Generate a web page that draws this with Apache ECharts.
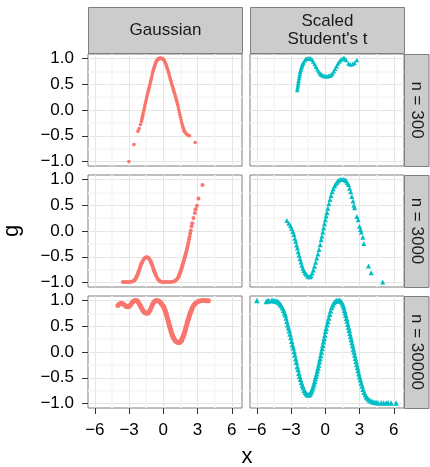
<!DOCTYPE html>
<html><head><meta charset="utf-8">
<script src="https://cdn.jsdelivr.net/npm/echarts@6/dist/echarts.min.js"></script>
<style>html,body{margin:0;padding:0;background:#fff}#c{width:430px;height:467px}</style>
</head><body><div id="c"></div>
<script>
// ---- data ----
const columns = ['Gaussian', "Scaled\nStudent's t"];
const rows = ['n = 300', 'n = 3000', 'n = 30000'];
const xTicks = [-6, -3, 0, 3, 6];
const xMinor = [-4.5, -1.5, 1.5, 4.5];
const yTicks = [-1, -0.5, 0, 0.5, 1];
const yMinor = [-0.75, -0.25, 0.25, 0.75];
const xTitle = 'x';
const yTitle = 'g';

const gauss300 = [[-3.02,-1.0],[-2.58,-0.67],[-2.22,-0.41],[-2.12,-0.36],[-2.0,-0.28],[-1.92,-0.22],[-1.88,-0.18],[-1.84,-0.14],[-1.8,-0.1],[-1.76,-0.06],[-1.72,-0.02],[-1.68,0.02],[-1.64,0.06],[-1.6,0.1],[-1.56,0.14],[-1.52,0.18],[-1.48,0.22],[-1.44,0.26],[-1.4,0.295],[-1.36,0.33],[-1.32,0.365],[-1.28,0.4],[-1.24,0.435],[-1.2,0.47],[-1.16,0.51],[-1.12,0.55],[-1.08,0.585],[-1.04,0.62],[-1.0,0.66],[-0.96,0.7],[-0.92,0.735],[-0.88,0.77],[-0.84,0.8],[-0.8,0.83],[-0.76,0.855],[-0.72,0.88],[-0.68,0.905],[-0.64,0.93],[-0.6,0.945],[-0.56,0.96],[-0.52,0.975],[-0.48,0.985],[-0.44,0.99],[-0.4,0.995],[-0.35,1.0],[-0.3,1.0],[-0.25,1.0],[-0.2,1.0],[-0.15,0.998],[-0.1,0.995],[-0.05,0.99],[0.0,0.98],[0.05,0.965],[0.1,0.95],[0.15,0.925],[0.2,0.9],[0.25,0.87],[0.3,0.84],[0.35,0.805],[0.4,0.77],[0.45,0.73],[0.5,0.69],[0.55,0.65],[0.6,0.61],[0.65,0.57],[0.7,0.53],[0.75,0.495],[0.8,0.46],[0.85,0.42],[0.9,0.38],[0.95,0.345],[1.0,0.31],[1.05,0.27],[1.1,0.23],[1.15,0.19],[1.2,0.15],[1.25,0.105],[1.3,0.06],[1.35,0.01],[1.4,-0.04],[1.45,-0.09],[1.5,-0.14],[1.55,-0.19],[1.6,-0.24],[1.65,-0.28],[1.7,-0.32],[1.75,-0.355],[1.8,-0.39],[1.85,-0.41],[1.9,-0.43],[2.0,-0.46],[2.1,-0.48],[2.2,-0.495],[2.3,-0.5],[2.79,-0.63]];

const t300 = [[-2.46,0.39],[-2.43,0.435],[-2.4,0.48],[-2.37,0.525],[-2.34,0.57],[-2.3,0.615],[-2.27,0.66],[-2.235,0.7],[-2.2,0.74],[-2.16,0.775],[-2.12,0.81],[-2.075,0.84],[-2.03,0.87],[-1.98,0.895],[-1.93,0.92],[-1.82,0.96],[-1.7,0.99],[-1.56,1.0],[-1.42,1.0],[-1.3,1.0],[-1.18,0.98],[-1.06,0.94],[-0.94,0.89],[-0.82,0.84],[-0.7,0.79],[-0.58,0.745],[-0.46,0.71],[-0.34,0.685],[-0.22,0.67],[-0.1,0.66],[0.02,0.655],[0.14,0.655],[0.26,0.66],[0.38,0.665],[0.5,0.68],[0.62,0.71],[0.74,0.75],[0.86,0.8],[0.98,0.85],[1.1,0.9],[1.22,0.94],[1.34,0.97],[1.46,0.99],[1.58,1.0],[1.7,1.0],[1.82,0.968],[2.03,0.903],[2.2,0.884],[2.4,0.89],[2.55,0.916],[2.76,0.968]];

const gauss3000 = [[-3.55,-0.99],[-3.4,-0.99],[-3.2,-0.99],[-3.0,-0.99],[-2.8,-0.985],[-2.65,-0.975],[-2.55,-0.955],[-2.5,-0.945],[-2.45,-0.93],[-2.4,-0.91],[-2.35,-0.89],[-2.3,-0.865],[-2.25,-0.84],[-2.2,-0.81],[-2.15,-0.78],[-2.1,-0.745],[-2.05,-0.71],[-2.0,-0.68],[-1.95,-0.65],[-1.9,-0.625],[-1.85,-0.6],[-1.75,-0.56],[-1.65,-0.53],[-1.55,-0.515],[-1.45,-0.51],[-1.35,-0.515],[-1.25,-0.535],[-1.15,-0.57],[-1.1,-0.595],[-1.05,-0.62],[-1.0,-0.65],[-0.95,-0.68],[-0.9,-0.71],[-0.85,-0.745],[-0.8,-0.78],[-0.75,-0.81],[-0.7,-0.835],[-0.65,-0.86],[-0.55,-0.905],[-0.45,-0.94],[-0.35,-0.965],[-0.2,-0.985],[0.0,-0.99],[0.2,-0.99],[0.4,-0.99],[0.6,-0.99],[0.8,-0.985],[0.95,-0.975],[1.1,-0.955],[1.2,-0.93],[1.3,-0.9],[1.35,-0.875],[1.4,-0.85],[1.45,-0.82],[1.5,-0.79],[1.55,-0.755],[1.6,-0.72],[1.65,-0.685],[1.7,-0.65],[1.75,-0.61],[1.8,-0.57],[1.85,-0.53],[1.9,-0.49],[1.95,-0.45],[2.0,-0.41],[2.05,-0.365],[2.1,-0.32],[2.15,-0.27],[2.2,-0.22],[2.25,-0.165],[2.3,-0.11],[2.35,-0.05],[2.4,0.01],[2.47,0.09],[2.53,0.15],[2.64,0.25],[2.76,0.35],[2.82,0.42],[2.94,0.49],[3.08,0.63],[3.43,0.89]];

const t3000 = [[-3.37,0.205],[-3.2,0.15],[-3.05,0.1],[-2.95,0.05],[-2.85,-0.01],[-2.75,-0.07],[-2.68,-0.14],[-2.6,-0.2],[-2.52,-0.27],[-2.45,-0.33],[-2.38,-0.4],[-2.3,-0.47],[-2.22,-0.54],[-2.14,-0.6],[-2.06,-0.665],[-1.97,-0.72],[-1.88,-0.765],[-1.78,-0.81],[-1.68,-0.84],[-1.56,-0.87],[-1.44,-0.885],[-1.35,-0.885],[-1.25,-0.865],[-1.15,-0.815],[-1.05,-0.755],[-0.95,-0.685],[-0.85,-0.605],[-0.75,-0.525],[-0.65,-0.445],[-0.55,-0.36],[-0.45,-0.265],[-0.37,-0.17],[-0.3,-0.1],[-0.22,-0.02],[-0.15,0.06],[-0.08,0.14],[0.0,0.22],[0.07,0.29],[0.14,0.36],[0.22,0.44],[0.31,0.53],[0.4,0.61],[0.5,0.69],[0.6,0.76],[0.7,0.82],[0.8,0.87],[0.9,0.91],[1.0,0.94],[1.1,0.97],[1.2,0.99],[1.32,1.0],[1.45,1.0],[1.6,1.0],[1.72,0.995],[1.82,0.975],[1.92,0.94],[2.02,0.9],[2.12,0.83],[2.22,0.76],[2.32,0.67],[2.42,0.58],[2.5,0.5],[2.56,0.45],[2.76,0.28],[2.88,0.22],[2.99,0.09],[3.08,0.03],[3.15,-0.02],[3.28,-0.12],[3.37,-0.24],[3.78,-0.68],[4.01,-0.81],[5.03,-0.99]];

const gauss30000 = [[-3.98,0.9],[-3.85,0.93],[-3.7,0.945],[-3.55,0.935],[-3.4,0.91],[-3.25,0.88],[-3.1,0.875],[-2.98,0.885],[-2.85,0.92],[-2.72,0.96],[-2.6,0.99],[-2.45,1.0],[-2.3,0.995],[-2.2,0.97],[-2.1,0.93],[-2.0,0.89],[-1.9,0.85],[-1.8,0.81],[-1.7,0.78],[-1.6,0.76],[-1.45,0.75],[-1.35,0.755],[-1.25,0.78],[-1.15,0.82],[-1.05,0.87],[-0.95,0.92],[-0.85,0.96],[-0.75,0.985],[-0.6,1.0],[-0.45,0.995],[-0.35,0.98],[-0.25,0.96],[-0.15,0.93],[-0.05,0.9],[0.0,0.88],[0.05,0.86],[0.1,0.835],[0.15,0.81],[0.2,0.775],[0.25,0.74],[0.3,0.7],[0.35,0.66],[0.4,0.62],[0.45,0.58],[0.5,0.54],[0.55,0.5],[0.6,0.46],[0.65,0.42],[0.7,0.385],[0.75,0.35],[0.8,0.32],[0.85,0.29],[0.9,0.27],[0.95,0.25],[1.05,0.22],[1.15,0.2],[1.25,0.19],[1.35,0.185],[1.45,0.19],[1.55,0.21],[1.6,0.23],[1.65,0.26],[1.7,0.285],[1.75,0.31],[1.8,0.34],[1.85,0.37],[1.9,0.41],[1.95,0.45],[2.0,0.49],[2.05,0.53],[2.1,0.57],[2.15,0.61],[2.2,0.645],[2.25,0.68],[2.3,0.715],[2.35,0.75],[2.4,0.78],[2.45,0.81],[2.5,0.835],[2.55,0.86],[2.65,0.9],[2.75,0.93],[2.9,0.96],[3.05,0.98],[3.2,0.99],[3.4,1.0],[3.6,1.0],[3.8,0.995],[3.95,0.995]];

const t30000 = [[-5.99,1.0],[-5.17,0.98],[-5.05,0.99],[-4.94,1.0],[-4.7,1.0],[-4.59,1.0],[-4.45,0.995],[-4.3,0.99],[-4.18,0.975],[-4.07,0.96],[-3.96,0.93],[-3.86,0.9],[-3.76,0.855],[-3.66,0.81],[-3.58,0.76],[-3.51,0.72],[-3.44,0.66],[-3.37,0.59],[-3.3,0.53],[-3.23,0.47],[-3.16,0.41],[-3.09,0.35],[-3.02,0.28],[-2.95,0.21],[-2.88,0.14],[-2.81,0.08],[-2.74,0.01],[-2.67,-0.06],[-2.6,-0.13],[-2.53,-0.2],[-2.46,-0.28],[-2.39,-0.34],[-2.32,-0.41],[-2.25,-0.47],[-2.18,-0.53],[-2.1,-0.59],[-2.02,-0.645],[-1.94,-0.69],[-1.86,-0.74],[-1.76,-0.78],[-1.66,-0.81],[-1.56,-0.83],[-1.46,-0.835],[-1.36,-0.82],[-1.27,-0.79],[-1.2,-0.75],[-1.13,-0.71],[-1.06,-0.67],[-1.0,-0.62],[-0.94,-0.57],[-0.88,-0.52],[-0.82,-0.47],[-0.76,-0.42],[-0.7,-0.365],[-0.64,-0.31],[-0.58,-0.25],[-0.52,-0.19],[-0.46,-0.13],[-0.4,-0.07],[-0.34,0.0],[-0.28,0.07],[-0.22,0.13],[-0.16,0.2],[-0.1,0.26],[-0.04,0.33],[0.02,0.4],[0.08,0.46],[0.15,0.53],[0.22,0.59],[0.3,0.66],[0.38,0.73],[0.46,0.8],[0.55,0.86],[0.65,0.91],[0.76,0.955],[0.88,0.985],[1.0,1.0],[1.12,1.0],[1.24,1.0],[1.36,0.99],[1.46,0.955],[1.54,0.91],[1.61,0.86],[1.67,0.81],[1.73,0.76],[1.79,0.71],[1.85,0.655],[1.91,0.6],[1.97,0.54],[2.03,0.48],[2.09,0.42],[2.15,0.36],[2.21,0.3],[2.27,0.24],[2.33,0.18],[2.39,0.12],[2.45,0.06],[2.51,0.0],[2.57,-0.06],[2.63,-0.12],[2.69,-0.18],[2.75,-0.24],[2.81,-0.3],[2.87,-0.36],[2.93,-0.42],[3.0,-0.48],[3.07,-0.54],[3.14,-0.6],[3.22,-0.66],[3.3,-0.72],[3.4,-0.78],[3.5,-0.83],[3.6,-0.87],[3.72,-0.9],[3.85,-0.93],[4.0,-0.95],[4.15,-0.965],[4.3,-0.975],[4.45,-0.98],[4.6,-0.985],[4.88,-0.985],[5.1,-0.99],[5.32,-0.99],[5.5,-0.985],[5.76,-0.99],[6.2,-0.99]];

// ---- layout / style ----
const panels = [gauss300, t300, gauss3000, t3000, gauss30000, t30000];
const panelSizes = [3.6, 4.6, 4, 5, 5, 5.5];
const FF = "'Liberation Sans', Arial, Helvetica, sans-serif";
const colLeft = [88, 250], panelW = 154;
const rowTop = [54, 175, 296], panelH = 112;
const X_MIN = -6.6, X_MAX = 6.89, Y_MIN = -1.085, Y_MAX = 1.085;
const colColors = ['#F8766D', '#00BFC4'];
const colSymbols = ['circle', 'triangle'];
const fmtX = v => (v < 0 ? '\u2212' : '') + Math.abs(v);
const fmtY = v => (v < 0 ? '\u2212' : '') + Math.abs(v).toFixed(1);

const grids = [], xAxes = [], yAxes = [], series = [], graphic = [];
for (let i = 0; i < 6; i++) {
  const r = Math.floor(i / 2), c = i % 2;
  grids.push({ left: colLeft[c], top: rowTop[r], width: panelW, height: panelH, show: true,
    backgroundColor: '#fff', borderColor: '#7f7f7f', borderWidth: 1, containLabel: false, outerBoundsMode: 'none' });
}
// minor grid-line axes first (drawn underneath)
for (let i = 0; i < 6; i++) {
  xAxes.push({ type: 'value', gridIndex: i, min: X_MIN, max: X_MAX, position: 'top',
    axisLine: { show: false, onZero: false }, axisTick: { show: false, customValues: xMinor },
    axisLabel: { show: false }, splitLine: { show: true, customValues: xMinor, lineStyle: { color: '#F6F6F6', width: 1.5 } } });
  yAxes.push({ type: 'value', gridIndex: i, min: Y_MIN, max: Y_MAX, position: 'right',
    axisLine: { show: false, onZero: false }, axisTick: { show: false, customValues: yMinor },
    axisLabel: { show: false }, splitLine: { show: true, customValues: yMinor, lineStyle: { color: '#F6F6F6', width: 1.5 } } });
}
for (let i = 0; i < 6; i++) {
  const r = Math.floor(i / 2), c = i % 2;
  const bottom = r === 2, left = c === 0;
  xAxes.push({ type: 'value', gridIndex: i, min: X_MIN, max: X_MAX, position: 'bottom',
    axisLine: { show: false, onZero: false },
    axisTick: { show: bottom, customValues: xTicks, length: 6, lineStyle: { color: '#333', width: 1 } },
    axisLabel: { show: bottom, customValues: xTicks, formatter: fmtX, fontSize: 17, color: '#000', fontFamily: FF, margin: 14 },
    splitLine: { show: true, customValues: xTicks, lineStyle: { color: '#E5E5E5', width: 1 } } });
  yAxes.push({ type: 'value', gridIndex: i, min: Y_MIN, max: Y_MAX, position: 'left',
    axisLine: { show: false, onZero: false },
    axisTick: { show: left, customValues: yTicks, length: 6, lineStyle: { color: '#333', width: 1 } },
    axisLabel: { show: left, customValues: yTicks, formatter: fmtY, fontSize: 17, color: '#000', fontFamily: FF, margin: 14 },
    splitLine: { show: true, customValues: yTicks, lineStyle: { color: '#E5E5E5', width: 1 } } });
  series.push({ type: 'scatter', name: columns[c].replace('\n', ' ') + ', ' + rows[r],
    xAxisIndex: 6 + i, yAxisIndex: 6 + i, data: panels[i],
    symbol: colSymbols[c], symbolSize: panelSizes[i], silent: true,
    itemStyle: { color: colColors[c], opacity: 1 } });
}
// facet strips
for (let c = 0; c < 2; c++) {
  graphic.push({ type: 'rect', shape: { x: colLeft[c] + 0.5, y: 7.5, width: panelW, height: 46 },
    style: { fill: '#cccccc', stroke: '#7f7f7f', lineWidth: 1 }, z: 10 });
  graphic.push({ type: 'text', x: colLeft[c] + 0.5 + panelW / 2, y: 30.5, z: 11,
    style: { text: columns[c], fontSize: 17, fontFamily: FF, fill: '#1a1a1a', align: 'center', verticalAlign: 'middle', lineHeight: 18 } });
}
for (let r = 0; r < 3; r++) {
  graphic.push({ type: 'rect', shape: { x: colLeft[1] + panelW + 0.5, y: rowTop[r] + 0.5, width: 24.5, height: panelH },
    style: { fill: '#cccccc', stroke: '#7f7f7f', lineWidth: 1 }, z: 10 });
  graphic.push({ type: 'text', x: colLeft[1] + panelW + 13, y: rowTop[r] + panelH / 2, rotation: -Math.PI / 2, z: 11,
    style: { text: rows[r], fontSize: 17, fontFamily: FF, fill: '#1a1a1a', align: 'center', verticalAlign: 'middle' } });
}
graphic.push({ type: 'text', x: 247, y: 457, z: 11,
  style: { text: xTitle, fontSize: 22, fontFamily: FF, fill: '#000', align: 'center', verticalAlign: 'middle' } });
graphic.push({ type: 'text', x: 12, y: 231, rotation: Math.PI / 2, z: 11,
  style: { text: yTitle, fontSize: 22, fontFamily: FF, fill: '#000', align: 'center', verticalAlign: 'middle' } });

const chart = echarts.init(document.getElementById('c'), null, { renderer: 'canvas', width: 430, height: 467 });
chart.setOption({
  animation: false,
  backgroundColor: '#fff',
  grid: grids, xAxis: xAxes, yAxis: yAxes, series: series, graphic: graphic
});
</script></body></html>
